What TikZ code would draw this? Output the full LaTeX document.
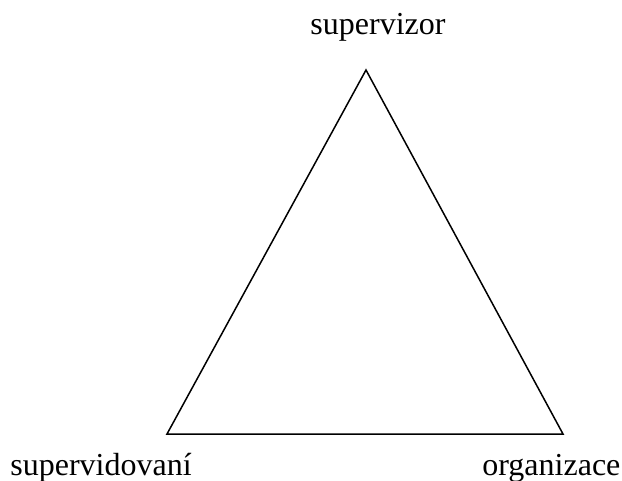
\documentclass[tikz,border=0pt]{standalone}
\usepackage{fontspec}
\setmainfont{Liberation Serif}
\usepackage{tikz}
\usetikzlibrary{positioning}
\tikzset{
  rolelabel/.style={inner sep=0pt, font=\fontsize{16}{19}\selectfont},
  side/.style={line width=0.75pt, color=black, line join=miter}
}

\begin{document}
\begin{tikzpicture}[x=0.5pt, y=-0.5pt]
  \useasboundingbox (0,0) rectangle (622,481);
  \coordinate (top) at (366,70);
  \coordinate (left) at (167,434);
  \coordinate (right) at (563,434);
  \node[rolelabel, anchor=base] (sup) at (378,35) {supervizor};
  \node[rolelabel, anchor=base west] (svd) at (10,475) {supervidovaní};
  \node[rolelabel, anchor=base west] (org) at (482,475) {organizace};
  \draw[side] (top)--(left)--(right)--cycle;
\end{tikzpicture}
\end{document}
